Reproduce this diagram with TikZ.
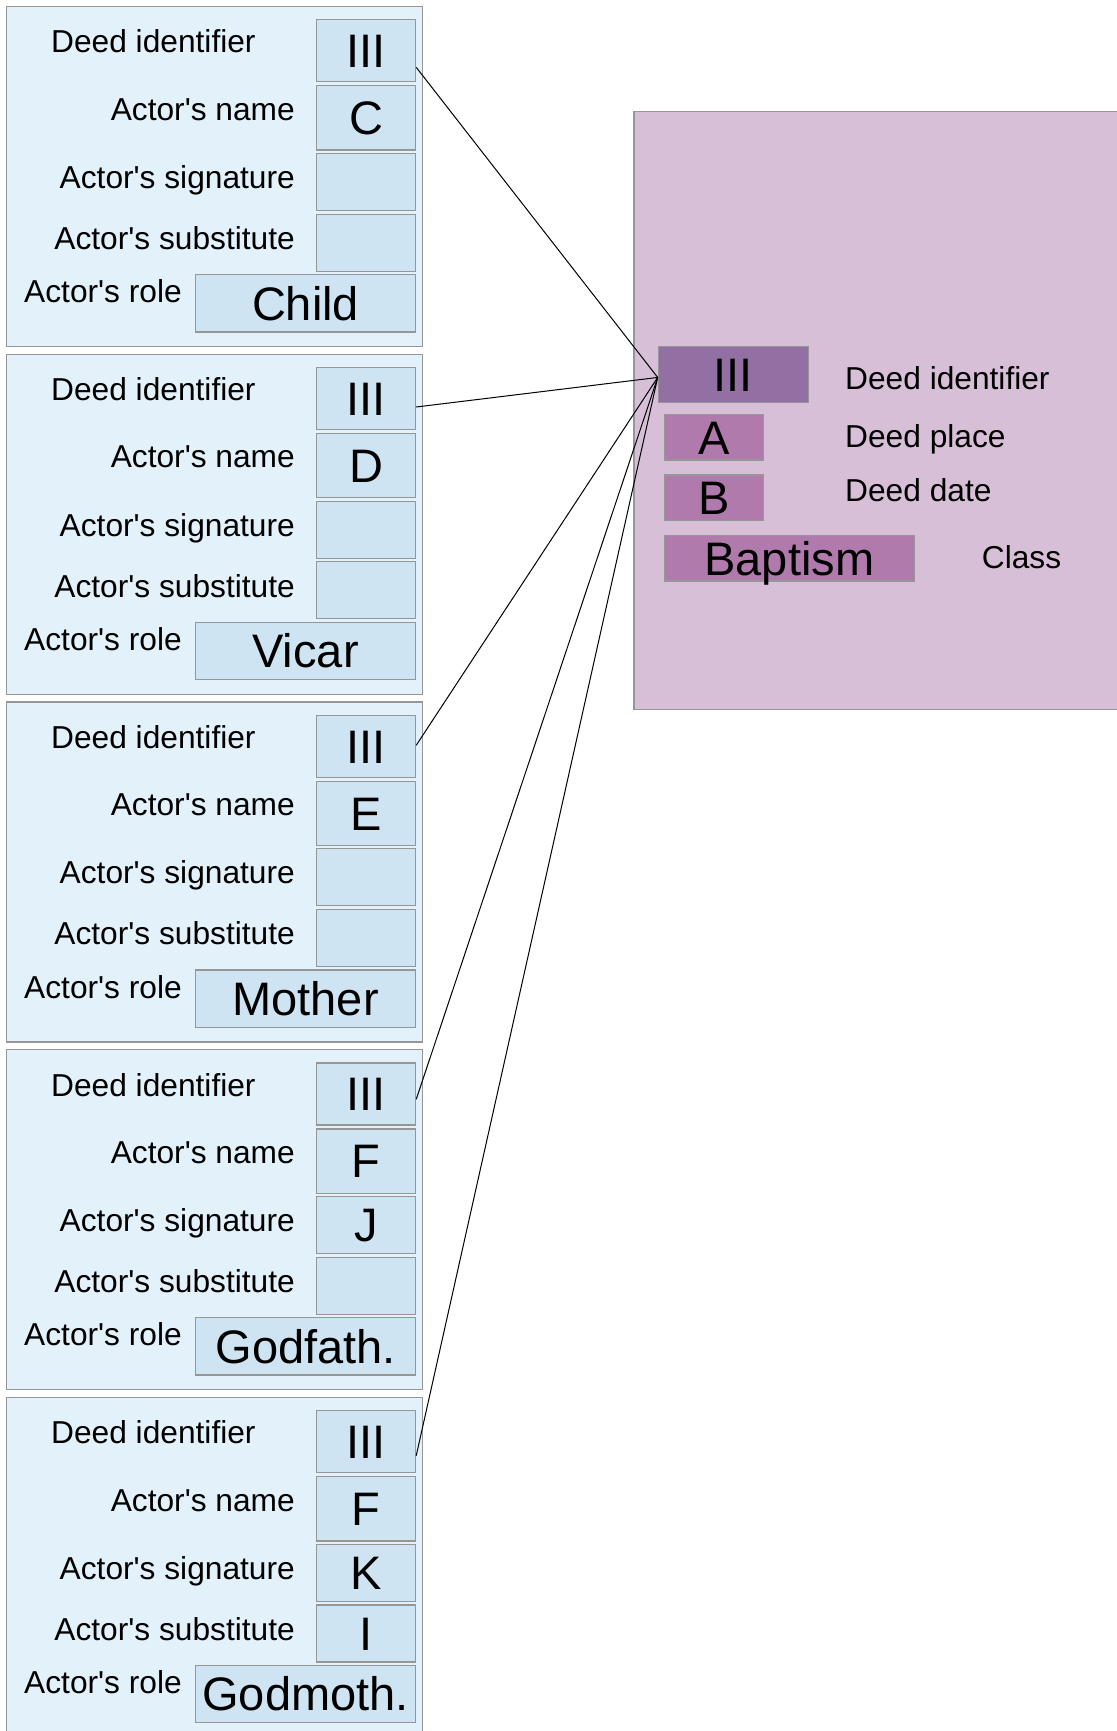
\documentclass[tikz,border=0pt]{standalone}
\usepackage{fontspec}
\setmainfont{Liberation Sans}[Ligatures=TeXOff]
\definecolor{cardfill}{RGB}{227,241,250}
\definecolor{valfill}{RGB}{207,228,242}
\definecolor{boxline}{RGB}{150,150,150}
\definecolor{panelfill}{RGB}{216,191,216}
\definecolor{pidfill}{RGB}{147,112,163}
\definecolor{pvalfill}{RGB}{176,122,173}
\begin{document}
\begin{tikzpicture}[x=1pt,y=-1pt,
  card/.style={draw=boxline,line width=1.2pt,fill=cardfill,anchor=north west,minimum width=416pt,minimum height=340pt,inner sep=0pt},
  valbox/.style={draw=boxline,line width=1.2pt,fill=valfill,anchor=north west,inner sep=0pt,
     font=\fontsize{47pt}{47pt}\selectfont,text height=33.6pt,text depth=0pt},
  lbl/.style={inner sep=0pt,font=\fontsize{31.7pt}{32pt}\selectfont},
  panelbox/.style={draw=boxline,line width=1.2pt,fill=panelfill,anchor=north west,inner sep=0pt},
  pbox/.style={draw=boxline,line width=1.2pt,anchor=north west,inner sep=0pt,
     font=\fontsize{47pt}{47pt}\selectfont,text height=33.6pt,text depth=0pt},
  conn/.style={draw=black,line width=1pt}]
\useasboundingbox (0,0) rectangle (1116,1731);
\fill[white] (0,0) rectangle (1116,1731);
% right panel
\node[panelbox,minimum width=490pt,minimum height=597.4pt] (panel) at (633.3,111.3) {};
\node[pbox,fill=pidfill,minimum width=150pt,minimum height=55.7pt] (pid) at (657.7,346) {III};
\node[pbox,fill=pvalfill,minimum width=99pt,minimum height=45.3pt] (pplace) at (663.7,414) {A};
\node[pbox,fill=pvalfill,minimum width=99pt,minimum height=45.7pt] (pdate) at (663.7,474.3) {B};
\node[pbox,fill=pvalfill,minimum width=250pt,minimum height=45.3pt] (pclass) at (663.7,535) {Baptism};
\node[lbl,anchor=base west] (lpid) at (845,389) {Deed identifier};
\node[lbl,anchor=base west] (lpplace) at (845,447.7) {Deed place};
\node[lbl,anchor=base west] (lpdate) at (845,501) {Deed date};
\node[lbl,anchor=base west] (lpclass) at (981.7,568.3) {Class};
% cards
\foreach \i/\nm/\sg/\sb/\rl/\ys in {1/C///Child/-16.4,2/D///Vicar/-8.4,3/E///Mother/1,4/F/J//Godfath./-5.3,5/F/K/I/Godmoth./-14}{
  \pgfmathsetmacro{\T}{6+347.7*(\i-1)}
  \node[card] (c\i) at (6,\T) {};
  \node[valbox,minimum width=99pt,minimum height=62pt] (c\i id) at (316,\T+13.3) {III};
  \node[valbox,minimum width=99pt,minimum height=64.3pt] (c\i nm) at (316,\T+79.2) {\nm};
  \node[valbox,minimum width=99pt,minimum height=57pt] (c\i sg) at (316,\T+146.8) {\sg};
  \node[valbox,minimum width=99pt,minimum height=57pt] (c\i sb) at (316,\T+207.5) {\sb};
  \node[valbox,minimum width=220pt,minimum height=57.3pt] (c\i rl) at (195,\T+268) {\rl};
  \node[lbl,anchor=base west] (c\i lid) at (51,\T+47) {Deed identifier};
  \node[lbl,anchor=base east] (c\i lnm) at (295,\T+114.2) {Actor's name};
  \node[lbl,anchor=base east] (c\i lsg) at (295,\T+182.5) {Actor's signature};
  \node[lbl,anchor=base east] (c\i lsb) at (295,\T+243.3) {Actor's substitute};
  \node[lbl,anchor=base west] (c\i lrl) at (24,\T+296.7) {Actor's role};
  \draw[conn] ([yshift=\ys pt]c\i id.east) -- ([yshift=-3pt]pid.west);
}
\end{tikzpicture}
\end{document}
